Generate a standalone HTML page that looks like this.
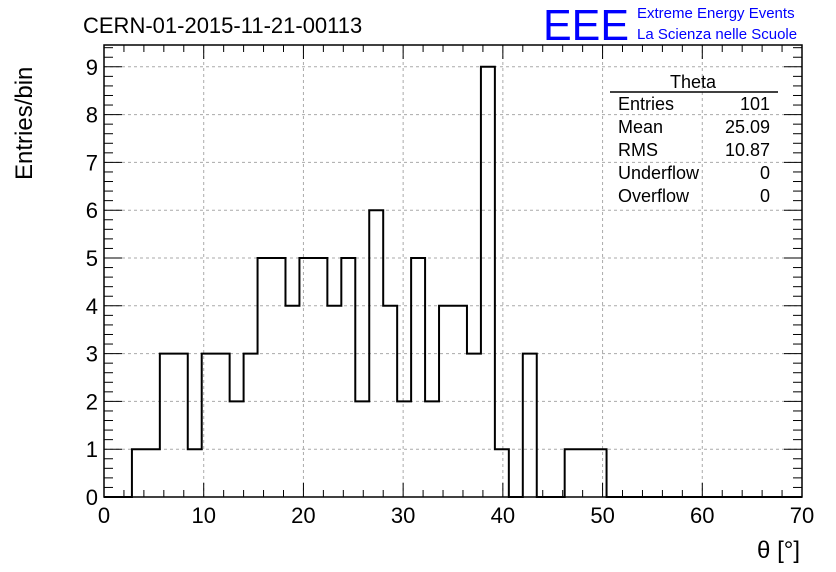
<!DOCTYPE html>
<html><head><meta charset="utf-8"><style>
body{margin:0;background:#fff;font-family:"Liberation Sans",sans-serif}
svg{display:block}
</style></head><body>
<svg id="c" width="836" height="572" font-family="Liberation Sans, sans-serif">
<text x="83" y="33" font-size="22">CERN-01-2015-11-21-00113</text>
<text x="543" y="40" font-size="44" fill="#0000ff" textLength="86" lengthAdjust="spacingAndGlyphs">EEE</text>
<text x="637" y="18" font-size="15" fill="#0000ff">Extreme Energy Events</text>
<text x="637" y="39" font-size="15" fill="#0000ff">La Scienza nelle Scuole</text>
<text transform="translate(32,180) rotate(-90)" font-size="24">Entries/bin</text>
<text x="800" y="558" font-size="24" text-anchor="end">θ [°]</text>
<g id="grid"></g><g id="hist"></g><g id="axes"></g>
<g font-size="18">
<text x="693" y="88" text-anchor="middle">Theta</text>
<line x1="610" y1="92" x2="778" y2="92" stroke="#000" stroke-width="1.5"/>
<text x="618" y="110">Entries</text><text x="770" y="110" text-anchor="end">101</text>
<text x="618" y="133">Mean</text><text x="770" y="133" text-anchor="end">25.09</text>
<text x="618" y="156">RMS</text><text x="770" y="156" text-anchor="end">10.87</text>
<text x="618" y="179">Underflow</text><text x="770" y="179" text-anchor="end">0</text>
<text x="618" y="202">Overflow</text><text x="770" y="202" text-anchor="end">0</text>
</g>
</svg>
<script>
const binWidth=1.4;
const counts=[0,0,1,1,3,3,1,3,3,2,3,5,5,4,5,5,4,5,2,6,4,2,5,2,4,4,3,9,1,0,3,0,0,1,1,1,0,0,0,0,0,0,0,0,0,0,0,0,0,0];
const xTicks=[0,10,20,30,40,50,60,70];
const yTicks=[0,1,2,3,4,5,6,7,8,9];
const X0=104,X1=802,Y0=497,Y1=45,xMax=70,yMax=9.456;
const sx=v=>X0+v/xMax*(X1-X0), sy=v=>Y0-v/yMax*(Y0-Y1);
const NS="http://www.w3.org/2000/svg";
function mk(p,t,a){const e=document.createElementNS(NS,t);for(const k in a)e.setAttribute(k,a[k]);p.appendChild(e);return e;}
const grid=document.getElementById('grid'),hist=document.getElementById('hist'),axes=document.getElementById('axes');
xTicks.forEach(t=>{if(t>0&&t<xMax){const l=mk(grid,'line',{x1:sx(t),x2:sx(t),y1:Y0,y2:Y1,stroke:'#aaa','stroke-dasharray':'3,3'});

}});
yTicks.forEach(t=>{if(t>0){const l=mk(grid,'line',{x1:X0,x2:X1,y1:sy(t),y2:sy(t),stroke:'#aaa','stroke-dasharray':'3,3'});

}});
let d='M'+sx(0)+','+sy(0);
counts.forEach((c,i)=>{d+=' L'+sx(i*binWidth)+','+sy(c)+' L'+sx((i+1)*binWidth)+','+sy(c);});
const p=mk(hist,'path',{d:d,fill:'none',stroke:'#000','stroke-width':2});


const fr=mk(axes,'rect',{x:X0,y:Y1,width:X1-X0,height:Y0-Y1,fill:'none',stroke:'#000','stroke-width':1.5});


for(let v=0;v<=xMax+0.01;v+=2){const big=v%10===0,L=big?14:7;
mk(axes,'line',{x1:sx(v),x2:sx(v),y1:Y0,y2:Y0-L,stroke:'#000'});
mk(axes,'line',{x1:sx(v),x2:sx(v),y1:Y1,y2:Y1+L,stroke:'#000'});}
for(let v=0;v<=yMax;v+=0.2){const big=Math.abs(v-Math.round(v))<0.01,L=big?18:9;
mk(axes,'line',{x1:X0,x2:X0+L,y1:sy(v),y2:sy(v),stroke:'#000'});
mk(axes,'line',{x1:X1,x2:X1-L,y1:sy(v),y2:sy(v),stroke:'#000'});}
xTicks.forEach(t=>{const e=mk(axes,'text',{x:sx(t),y:523,'font-size':22,'text-anchor':'middle'});e.textContent=t;

});
yTicks.forEach(t=>{const e=mk(axes,'text',{x:98,y:sy(t)+8,'font-size':22,'text-anchor':'end'});e.textContent=t;

});
</script>
</body></html>
